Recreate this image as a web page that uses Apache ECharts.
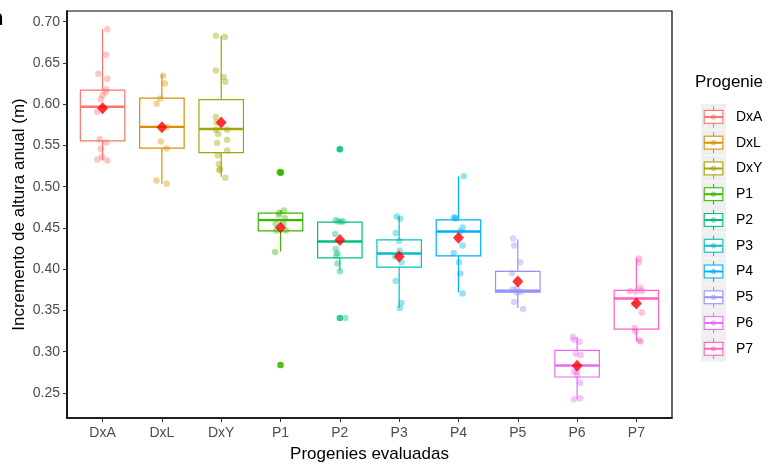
<!DOCTYPE html>
<html>
<head>
<meta charset="utf-8">
<script src="https://cdn.jsdelivr.net/npm/echarts@6/dist/echarts.min.js"></script>
<style>
html, body { margin: 0; padding: 0; background: #fff; }
#chart { width: 770px; height: 465px; }
</style>
</head>
<body>
<div id="chart"></div>
<script>
var progenies = ['DxA', 'DxL', 'DxY', 'P1', 'P2', 'P3', 'P4', 'P5', 'P6', 'P7'];
var colors = ['#F8766D', '#D89000', '#A3A500', '#39B600', '#00BF7D', '#00BFC4', '#00B0F6', '#9590FF', '#E76BF3', '#FF62BC'];
var yTicks = [0.25, 0.30, 0.35, 0.40, 0.45, 0.50, 0.55, 0.60, 0.65, 0.70];

// [min, Q1, mediana, Q3, max] por progenie
var boxStats = [
    [0.5317, 0.5555, 0.597, 0.617, 0.691],
    [0.5035, 0.5467, 0.5725, 0.6073, 0.6363],
    [0.512, 0.5414, 0.570, 0.6055, 0.683],
    [0.4215, 0.4466, 0.4595, 0.468, 0.4711],
    [0.3985, 0.4138, 0.4336, 0.457, 0.4595],
    [0.353, 0.4026, 0.419, 0.4357, 0.4639],
    [0.3718, 0.4163, 0.4457, 0.4599, 0.5128],
    [0.353, 0.3723, 0.3739, 0.3973, 0.4365],
    [0.2427, 0.2694, 0.2834, 0.3016, 0.3178],
    [0.3125, 0.3275, 0.3646, 0.3743, 0.4138]
];
var means = [0.595, 0.572, 0.578, 0.4506, 0.4353, 0.4154, 0.4381, 0.3852, 0.2831, 0.3585];
// [indice progenie, valor]
var outliers = [[3, 0.518], [3, 0.517], [3, 0.284], [4, 0.5455], [4, 0.3408]];

// puntos individuales: [desplazamiento jitter, valor]
var ptsDxA = [[0.08, 0.691], [0.06, 0.660], [-0.07, 0.637], [0.08, 0.631], [0.06, 0.618], [0.05, 0.6145], [0.00, 0.611], [-0.03, 0.606], [-0.09, 0.591], [-0.05, 0.5576], [0.06, 0.5535], [-0.03, 0.546], [-0.01, 0.536], [-0.09, 0.533], [0.08, 0.5317]];
var ptsDxL = [[0.02, 0.6346], [0.05, 0.625], [-0.03, 0.607], [-0.09, 0.6007], [0.08, 0.5725], [-0.02, 0.5547], [0.08, 0.5462], [-0.09, 0.5075], [0.08, 0.5035]];
var ptsDxY = [[-0.09, 0.683], [0.06, 0.6815], [-0.09, 0.641], [0.04, 0.633], [0.07, 0.6273], [-0.09, 0.5846], [-0.08, 0.578], [-0.09, 0.5692], [0.10, 0.5692], [-0.05, 0.564], [-0.07, 0.553], [0.10, 0.557], [0.10, 0.5438], [-0.06, 0.5382], [-0.04, 0.5277], [-0.02, 0.5216], [-0.03, 0.520], [0.07, 0.511]];
var ptsP1 = [[-0.02, 0.518], [0.01, 0.517], [0.06, 0.4711], [-0.02, 0.4687], [-0.03, 0.466], [0.07, 0.462], [-0.08, 0.455], [0.05, 0.455], [-0.07, 0.4469], [0.09, 0.4469], [-0.09, 0.4208], [0.00, 0.284]];
var ptsP2 = [[0.00, 0.5455], [-0.07, 0.4595], [-0.03, 0.458], [0.02, 0.458], [0.06, 0.458], [-0.08, 0.4426], [-0.07, 0.4244], [-0.04, 0.4195], [-0.06, 0.4163], [-0.04, 0.407], [0.00, 0.3977], [0.09, 0.3408]];
var ptsP3 = [[-0.04, 0.4639], [0.02, 0.4611], [-0.06, 0.4438], [0.00, 0.4341], [0.01, 0.4223], [-0.07, 0.4154], [0.04, 0.4086], [-0.06, 0.3856], [0.04, 0.3590], [0.01, 0.3529]];
var ptsP4 = [[0.09, 0.5128], [-0.08, 0.4627], [-0.06, 0.4620], [-0.04, 0.4614], [0.07, 0.4506], [0.03, 0.4457], [0.07, 0.4288], [-0.08, 0.4196], [0.01, 0.4086], [0.03, 0.3948], [0.07, 0.3706]];
var ptsP5 = [[-0.08, 0.4372], [-0.06, 0.4288], [0.04, 0.4086], [-0.10, 0.3953], [-0.02, 0.3767], [-0.09, 0.3751], [0.05, 0.3727], [-0.02, 0.3718], [-0.06, 0.3602], [0.09, 0.3517]];
var ptsP6 = [[-0.07, 0.3178], [-0.05, 0.3146], [0.04, 0.3121], [-0.02, 0.2976], [0.06, 0.2960], [0.00, 0.2762], [-0.05, 0.2758], [0.00, 0.2713], [0.05, 0.2625], [-0.05, 0.2423], [0.05, 0.2435]];
var ptsP7 = [[0.04, 0.413], [0.04, 0.4082], [-0.11, 0.3735], [-0.01, 0.373], [0.07, 0.3775], [0.09, 0.3735], [-0.04, 0.358], [0.09, 0.3476], [-0.03, 0.3287], [-0.02, 0.3246], [0.05, 0.3137], [0.07, 0.3125]];
var points = [ptsDxA, ptsDxL, ptsDxY, ptsP1, ptsP2, ptsP3, ptsP4, ptsP5, ptsP6, ptsP7];

var FONT = 'Liberation Sans, Arial, sans-serif';

function alpha(hex, a) {
    var n = parseInt(hex.slice(1), 16);
    return 'rgba(' + (n >> 16 & 255) + ',' + (n >> 8 & 255) + ',' + (n & 255) + ',' + a + ')';
}

// clave de leyenda estilo ggplot (caja + bigotes + punto)
function keyIcon(c) {
    var s = '<svg xmlns="http://www.w3.org/2000/svg" width="60" height="52" viewBox="0 0 30 26">' +
        '<rect x="0" y="0" width="25" height="26" fill="#EFEFEF"/>' +
        '<path d="M12.5 2.6V6.5M12.5 19.5V23.4" stroke="' + c + '" stroke-width="1.1" fill="none"/>' +
        '<rect x="3.1" y="6.5" width="18.8" height="13" fill="#fff" stroke="' + c + '" stroke-width="1.1"/>' +
        '<path d="M3.1 13H21.9" stroke="' + c + '" stroke-width="2"/>' +
        '<circle cx="12.5" cy="13" r="2.7" fill="' + c + '" fill-opacity="0.5"/>' +
        '</svg>';
    return 'image://data:image/svg+xml;charset=utf-8,' + encodeURIComponent(s);
}

var boxData = boxStats.map(function (b, i) { return [i].concat(b); });

var series = [{
    name: 'box',
    type: 'custom',
    data: boxData,
    encode: { x: 0, y: [1, 2, 3, 4, 5] },
    renderItem: function (params, api) {
        var i = api.value(0);
        var lo = api.coord([i, api.value(1)]);
        var q1 = api.coord([i, api.value(2)]);
        var md = api.coord([i, api.value(3)]);
        var q3 = api.coord([i, api.value(4)]);
        var hi = api.coord([i, api.value(5)]);
        var w = api.size([0.75, 0])[0];
        var c = colors[i];
        var ls = { stroke: c, lineWidth: 1.2, fill: 'none' };
        return {
            type: 'group',
            children: [
                { type: 'line', shape: { x1: lo[0], y1: lo[1], x2: q1[0], y2: q1[1] }, style: ls },
                { type: 'line', shape: { x1: q3[0], y1: q3[1], x2: hi[0], y2: hi[1] }, style: ls },
                { type: 'rect', shape: { x: q3[0] - w / 2, y: q3[1], width: w, height: q1[1] - q3[1] }, style: ls },
                { type: 'line', shape: { x1: md[0] - w / 2, y1: md[1], x2: md[0] + w / 2, y2: md[1] }, style: { stroke: c, lineWidth: 2.4 } }
            ]
        };
    }
}, {
    name: 'outliers',
    type: 'scatter',
    symbolSize: 6.5,
    data: outliers.map(function (o) {
        return { value: o, itemStyle: { color: colors[o[0]] } };
    })
}];

points.forEach(function (pts, g) {
    series.push({
        name: progenies[g],
        type: 'scatter',
        symbolSize: 6.5,
        itemStyle: { color: alpha(colors[g], 0.5) },
        data: pts.map(function (p) { return [g + p[0], p[1]]; })
    });
});

series.push({
    name: 'media',
    type: 'scatter',
    symbol: 'diamond',
    symbolSize: [11, 12],
    itemStyle: { color: '#FF0000' },
    data: means.map(function (m, i) { return [i, m]; })
});

var chart = echarts.init(document.getElementById('chart'));
chart.setOption({
    animation: false,
    backgroundColor: '#fff',
    textStyle: { fontFamily: FONT },
    grid: {
        left: 67, top: 11, width: 605, height: 407,
        show: true, borderColor: '#000', borderWidth: 1.2,
        containLabel: false, outerBoundsMode: 'none'
    },
    xAxis: {
        type: 'value',
        min: -0.6,
        max: 9.6,
        name: 'Progenies evaluadas',
        nameLocation: 'middle',
        nameGap: 28,
        nameMoveOverlap: false,
        nameTextStyle: { fontSize: 17, color: '#000', fontFamily: FONT },
        axisLine: { show: true, onZero: false, lineStyle: { color: '#000', width: 1.5 } },
        axisTick: { show: true, length: 4, customValues: [0, 1, 2, 3, 4, 5, 6, 7, 8, 9], lineStyle: { color: '#333' } },
        axisLabel: {
            customValues: [0, 1, 2, 3, 4, 5, 6, 7, 8, 9],
            formatter: function (v) { return progenies[Math.round(v)]; },
            fontSize: 14, color: '#4D4D4D', margin: 8, fontFamily: FONT
        },
        splitLine: { show: false }
    },
    yAxis: {
        type: 'value',
        min: 0.2197,
        max: 0.713,
        name: 'Incremento de altura anual (m)',
        nameLocation: 'middle',
        nameGap: 39,
        nameMoveOverlap: false,
        nameTextStyle: { fontSize: 17, color: '#000', fontFamily: FONT },
        axisLine: { show: true, onZero: false, lineStyle: { color: '#000', width: 1.5 } },
        axisTick: { show: true, length: 4, customValues: yTicks, lineStyle: { color: '#333' } },
        axisLabel: {
            customValues: yTicks,
            formatter: function (v) { return v.toFixed(2); },
            fontSize: 14, color: '#4D4D4D', margin: 7, fontFamily: FONT
        },
        splitLine: { show: false }
    },
    legend: {
        orient: 'vertical',
        left: 696,
        top: 99,
        itemGap: 0,
        itemWidth: 30,
        itemHeight: 25.77,
        selectedMode: false,
        itemStyle: { opacity: 1 },
        textStyle: { fontSize: 14, color: '#000', fontFamily: FONT },
        data: progenies.map(function (n, i) { return { name: n, icon: keyIcon(colors[i]) }; })
    },
    graphic: [{
        type: 'text',
        left: 695, top: 74,
        style: { text: 'Progenie', fontSize: 17, fill: '#000', fontFamily: FONT }
    }, {
        type: 'text',
        x: -10, y: 8,
        style: { text: 'n', fontSize: 22, fontWeight: 'bold', fill: '#000', fontFamily: FONT }
    }],
    series: series
});
</script>
</body>
</html>
